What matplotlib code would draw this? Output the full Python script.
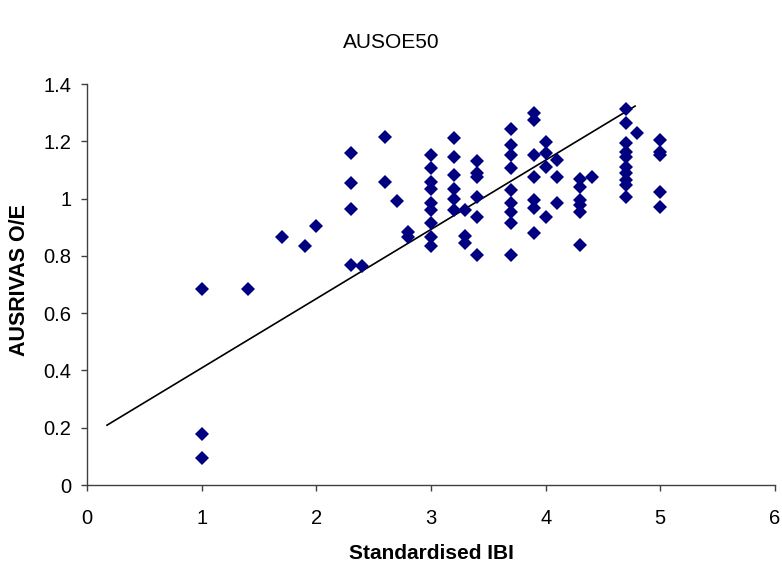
import matplotlib
matplotlib.use("Agg")
import matplotlib.pyplot as plt

plt.rcParams['font.family'] = ['Liberation Sans', 'DejaVu Sans']

# Data
ibi = [1.0, 1.0, 1.0, 1.4, 1.7, 1.9, 2.0,
       2.3, 2.3, 2.3, 2.3, 2.4, 2.6, 2.6, 2.7, 2.8, 2.8,
       3.0, 3.0, 3.0, 3.0, 3.0, 3.0, 3.0, 3.0, 3.0,
       3.2, 3.2, 3.2, 3.2, 3.2, 3.2,
       3.3, 3.3, 3.3,
       3.4, 3.4, 3.4, 3.4, 3.4, 3.4,
       3.7, 3.7, 3.7, 3.7, 3.7, 3.7, 3.7, 3.7, 3.7,
       3.9, 3.9, 3.9, 3.9, 3.9, 3.9, 3.9,
       4.0, 4.0, 4.0, 4.0,
       4.1, 4.1, 4.1,
       4.3, 4.3, 4.3, 4.3, 4.3, 4.3,
       4.4,
       4.7, 4.7, 4.7, 4.7, 4.7, 4.7, 4.7, 4.7, 4.7, 4.7,
       4.8,
       5.0, 5.0, 5.0, 5.0, 5.0]
oe = [0.686, 0.178, 0.094, 0.686, 0.865, 0.836, 0.903,
      1.160, 1.054, 0.965, 0.769, 0.766, 1.216, 1.059, 0.993, 0.884, 0.867,
      1.152, 1.106, 1.059, 1.032, 0.984, 0.960, 0.914, 0.867, 0.834,
      1.213, 1.144, 1.082, 1.032, 0.997, 0.960,
      0.960, 0.869, 0.846,
      1.132, 1.090, 1.076, 1.007, 0.937, 0.803,
      1.243, 1.187, 1.152, 1.106, 1.030, 0.984, 0.954, 0.914, 0.803,
      1.298, 1.274, 1.152, 1.076, 0.995, 0.966, 0.879,
      1.199, 1.158, 1.109, 0.937,
      1.135, 1.076, 0.984,
      1.067, 1.042, 0.995, 0.978, 0.954, 0.838,
      1.074,
      1.312, 1.263, 1.193, 1.164, 1.146, 1.111, 1.088, 1.065, 1.047, 1.007,
      1.228,
      1.205, 1.164, 1.152, 1.024, 0.972]

trend_x = [0.174, 4.78]
trend_y = [0.209, 1.323]

x_ticks = [0, 1, 2, 3, 4, 5, 6]
y_ticks = [0, 0.2, 0.4, 0.6, 0.8, 1.0, 1.2, 1.4]
y_labels = ['0', '0.2', '0.4', '0.6', '0.8', '1', '1.2', '1.4']

fig = plt.figure(figsize=(7.82, 5.64), dpi=100)
ax = fig.add_axes([0.1113, 0.140, 0.8797, 0.711])

ax.plot(ibi, oe, linestyle='none', marker='D', markersize=7,
        color='#000080', markeredgewidth=0, zorder=3)
ax.plot(trend_x, trend_y, color='black', linewidth=1.2, zorder=2)

ax.set_xlim(0, 6)
ax.set_ylim(0, 1.4)
ax.set_xticks(x_ticks)
ax.set_xticklabels([str(v) for v in x_ticks])
ax.set_yticks(y_ticks)
ax.set_yticklabels(y_labels)

for s in ['top', 'right']:
    ax.spines[s].set_visible(False)
for s in ['left', 'bottom']:
    ax.spines[s].set_color('#404040')
    ax.spines[s].set_linewidth(1.0)

ax.tick_params(axis='both', direction='out', length=4.3, width=1,
               color='#404040', labelsize=14.5)
ax.tick_params(axis='x', pad=13)
ax.tick_params(axis='y', pad=7)

ax.set_xlabel('Standardised IBI', fontsize=15, fontweight='bold', va='center')
ax.xaxis.set_label_coords(0.5, (485 - 553) / 401)
ax.set_ylabel('AUSRIVAS O/E', fontsize=15.5, fontweight='bold', va='center')
ax.yaxis.set_label_coords((19 - 87) / 688, 0.51)
fig.text(0.5, 1 - 42 / 564, 'AUSOE50', ha='center', va='center', fontsize=15)

fig.savefig('out.png', dpi=100)
